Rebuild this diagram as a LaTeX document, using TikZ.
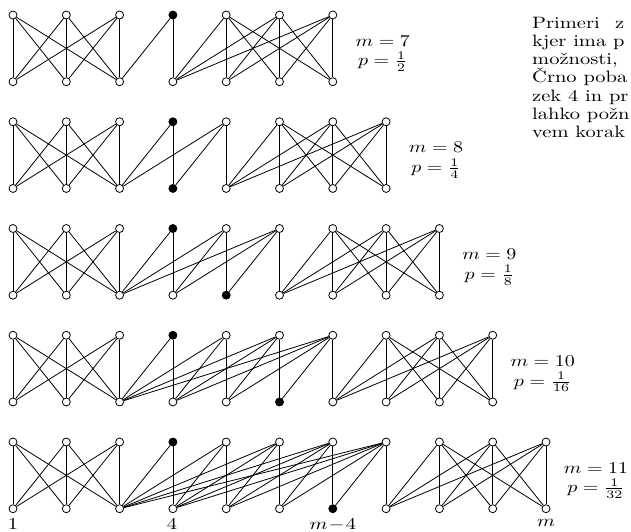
\documentclass[tikz,border=0pt]{standalone}
\tikzset{
  vtx/.style={circle,draw,fill=white,inner sep=0pt,minimum size=8pt,line width=0.8pt},
  blk/.style={vtx,fill=black},
  edge/.style={line width=0.8pt},
  lbl/.style={inner sep=0pt,font=\fontsize{10}{12}\selectfont},
  txt/.style={anchor=base west,inner sep=0pt,font=\fontsize{10}{12}\selectfont},
}
\newcommand{\SC}[1]{\scalebox{2.05}[1.65]{#1}}
\newcommand{\drawrow}[3]{%
  \pgfmathsetmacro{\ty}{15+106.75*(#1-1)}%
  \pgfmathsetmacro{\by}{\ty+66.7}%
  \pgfmathtruncatemacro{\ma}{#2-3}%
  \pgfmathtruncatemacro{\mb}{#2-2}%
  \ifnum#2>7 \pgfmathtruncatemacro{\mm}{#2-4}\else\def\mm{0}\fi
  \foreach \i in {1,...,#2}{%
    \ifnum\i=4 \def\ts{blk}\else\def\ts{vtx}\fi
    \ifnum\i=\mm \def\bs{blk}\else\def\bs{vtx}\fi
    \node[\ts] (t#1-\i) at ({13+53.3*(\i-1)},\ty) {};
    \node[\bs] (b#1-\i) at ({13+53.3*(\i-1)},\by) {};
  }%
  \foreach \i in {1,2,3}{\foreach \j in {1,2,3}{\draw[edge] (t#1-\i) -- (b#1-\j);}}%
  \foreach \j in {4,...,\ma}{\foreach \k in {3,...,\j}{\draw[edge] (t#1-\j) -- (b#1-\k);}}%
  \foreach \i in {\mb,...,#2}{%
    \draw[edge] (b#1-\ma) -- (t#1-\i);
    \foreach \j in {\mb,...,#2}{\draw[edge] (t#1-\i) -- (b#1-\j);}%
  }%
  \node[lbl] (lab#1) at ({13+53.3*(#2-1)+50},{\ty+37}) {\scalebox{2}[1.65]{\begin{tabular}{@{}c@{}}$m = #2$\\$p = \frac{1}{#3}$\end{tabular}}};
}
\begin{document}
\begin{tikzpicture}[x=1pt,y=-1pt]
\useasboundingbox (0,0) rectangle (631,531);
\drawrow{1}{7}{2}
\drawrow{2}{8}{4}
\drawrow{3}{9}{8}
\drawrow{4}{10}{16}
\drawrow{5}{11}{32}
\node[txt,anchor=base] (n1) at (13,529) {\SC{1}};
\node[txt,anchor=base] (n4) at (172,529) {\SC{4}};
\node[txt,anchor=base] (nm4) at (332.8,529) {\SC{$m\!-\!4$}};
\node[txt,anchor=base] (nm) at (546,526) {\SC{$m$}};
\node[txt] (p1) at (532,28) {\SC{Primeri\hspace{0.75em}z}};
\node[txt] (p2) at (532,46.3) {\SC{kjer ima p}};
\node[txt] (p3) at (532,64.6) {\SC{možnosti,}};
\node[txt] (p4) at (532,82.9) {\SC{Črno poba}};
\node[txt] (p5) at (532,101.2) {\SC{zek 4 in pr}};
\node[txt] (p6) at (532,119.5) {\SC{lahko požn}};
\node[txt] (p7) at (532,137.8) {\SC{vem korak}};
\end{tikzpicture}
\end{document}
